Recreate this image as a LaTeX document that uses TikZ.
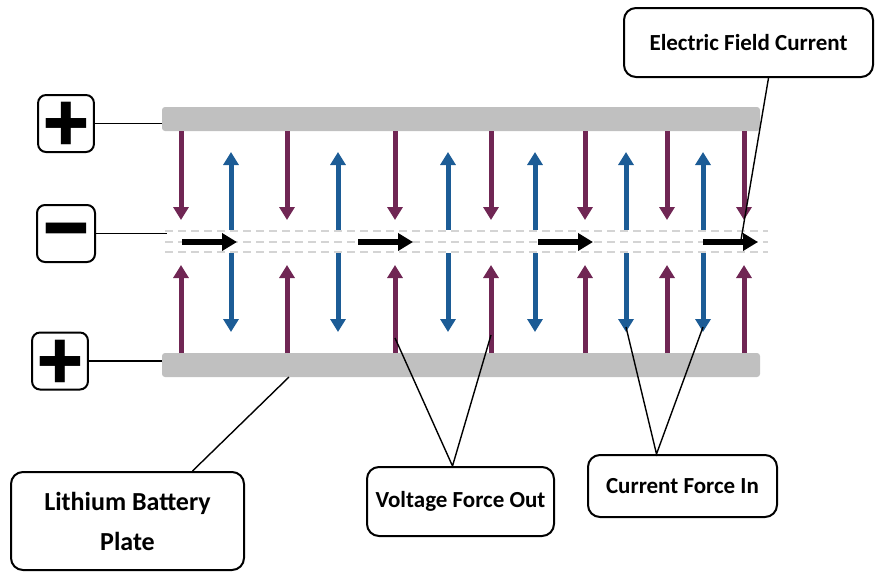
\documentclass[tikz,border=0pt]{standalone}
\usepackage{fontspec}
\setmainfont{Carlito}
\newfontfamily\signfont{Noto Emoji}
\usetikzlibrary{arrows.meta,positioning,calc}
\definecolor{fieldpurple}{RGB}{112,38,84}
\definecolor{fieldblue}{RGB}{28,92,150}
\definecolor{plategray}{RGB}{192,192,192}
\definecolor{gapgray}{RGB}{212,212,212}
\tikzset{
  plate/.style={fill=plategray, rounded corners=3pt, minimum width=598pt, minimum height=24pt, inner sep=0pt},
  signbox/.style={draw, line width=2pt, rounded corners=8pt, minimum width=54pt, minimum height=57pt, inner sep=0pt, font=\signfont\fontsize{44}{44}\selectfont},
  labelbox/.style={draw, line width=2pt, rounded corners=12pt, inner sep=0pt, align=center, font=\bfseries\fontsize{23}{40}\selectfont},
  pushfield/.style={fieldpurple, line width=5pt, -{Triangle[length=13pt,width=15pt]}},
  pullfield/.style={fieldblue, line width=5pt, -{Triangle[length=13pt,width=15pt]}},
  flow/.style={black, line width=5.5pt, -{Triangle[length=15pt,width=17pt]}},
  gapline/.style={gapgray, line width=1.8pt, dash pattern=on 8pt off 5pt},
  leader/.style={black, line width=1.4pt}
}
\begin{document}
\begin{tikzpicture}[x=1pt,y=-1pt]
\useasboundingbox (0,0) rectangle (875,574);
\node[plate] (topplate) at (461,119) {};
\node[plate] (botplate) at (461,365) {};
\node[signbox] (plusA) at (66,123.5) {➕};
\node[signbox, minimum width=58pt] (minus) at (66,233.5) {➖};
\node[signbox] (plusB) at (60,361) {➕};
\coordinate (midstart) at (167,239);
\draw[leader] (plusA.east) -- (plusA.east -| topplate.west);
\draw[leader] (minus.east) -- (minus.east -| midstart);
\draw[leader] (plusB.east) -- (plusB.east -| botplate.west);
\foreach \y in {231,242,252} \draw[gapline] (165,\y) -- (768,\y);
\foreach \x in {181,287,395,491,585,667,744}{
  \draw[pushfield] (\x,131) -- (\x,220);
  \draw[pushfield] (\x,353) -- (\x,265);
}
\foreach \x in {231,338,448,535,626,703}{
  \draw[pullfield] (\x,230) -- (\x,152);
  \draw[pullfield] (\x,253) -- (\x,332);
}
\foreach \a in {182,358,538,703} \draw[flow] (\a,242) -- (\a+55,242);
\node[labelbox, minimum width=249pt, minimum height=69pt] (efc) at (748.5,42.5) {Electric Field Current};
\node[labelbox, minimum width=233pt, minimum height=98pt, font=\bfseries\fontsize{26}{40}\selectfont] (lith) at (127.5,521) {Lithium Battery\\Plate};
\node[labelbox, minimum width=187pt, minimum height=69pt] (volt) at (460.5,501.5) {Voltage Force Out};
\node[labelbox, minimum width=189pt, minimum height=62pt] (curr) at (682.5,486) {Current Force In};
\coordinate (efcend) at (741,240);
\coordinate (lithend) at (289,377);
\coordinate (voltA) at (395,338);
\coordinate (voltB) at (491,335);
\coordinate (currA) at (626,327);
\coordinate (currB) at (703,327);
\draw[leader] ([xshift=20pt]efc.south) -- (efcend);
\draw[leader] ([xshift=65pt]lith.north) -- (lithend);
\draw[leader] (voltA) -- ([xshift=-8pt]volt.north) -- (voltB);
\draw[leader] (currA) -- ([xshift=-26pt]curr.north) -- (currB);
\end{tikzpicture}
\end{document}
